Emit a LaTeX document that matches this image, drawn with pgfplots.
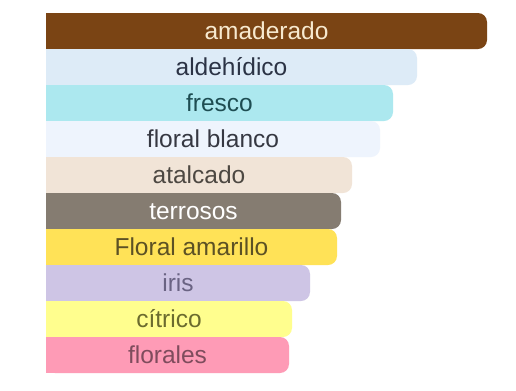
\documentclass[border=0pt]{standalone}
\usepackage{pgfplots}
\pgfplotsset{compat=1.18}
\usepackage{pgfplotstable}
\usepackage{fontspec}
\setmainfont{Liberation Sans}
\definecolor{b0}{HTML}{7A4414}\definecolor{t0}{HTML}{F7E9CF}
\definecolor{b1}{HTML}{DDEBF7}\definecolor{t1}{HTML}{2B3345}
\definecolor{b2}{HTML}{ACE8EF}\definecolor{t2}{HTML}{1E4D52}
\definecolor{b3}{HTML}{EEF4FD}\definecolor{t3}{HTML}{363842}
\definecolor{b4}{HTML}{F1E4D7}\definecolor{t4}{HTML}{4D4842}
\definecolor{b5}{HTML}{857C71}\definecolor{t5}{HTML}{FFFFFF}
\definecolor{b6}{HTML}{FFE257}\definecolor{t6}{HTML}{5C5124}
\definecolor{b7}{HTML}{CEC5E5}\definecolor{t7}{HTML}{6A6383}
\definecolor{b8}{HTML}{FFFE8E}\definecolor{t8}{HTML}{6B6B2E}
\definecolor{b9}{HTML}{FE9BB6}\definecolor{t9}{HTML}{7F4C5D}
\tikzset{lab/.style={font=\fontsize{24.5bp}{28bp}\selectfont, anchor=base, yshift=-8bp}}
\pgfplotstableread{
y v
0 441
1 371
2 347
3 334
4 306
5 295
6 291
7 264
8 246
9 243
}\data
\begin{document}
\begin{tikzpicture}
\path[use as bounding box, fill=white] (0,0) rectangle (516bp,391bp);
\begin{axis}[
  at={(46bp,18bp)}, anchor=south west,
  x=1bp, y=36bp, y dir=reverse,
  xmin=0, xmax=460, ymin=-0.5, ymax=9.5,
  hide axis, clip=false,
  xbar, bar width=36bp, bar shift=0pt,
  every axis plot/.append style={draw=none},
]
\pgfplotsinvokeforeach{0,...,9}{%
  \addplot[fill=b#1, rounded corners=9bp, restrict expr to domain={\thisrow{y}}{#1:#1}] table[x=v,y=y] {\data};
  \addplot[fill=b#1, restrict expr to domain={\thisrow{y}}{#1:#1}] table[x expr=\thisrow{v}/2,y=y] {\data};
}
\node[lab, text=t0] at (axis cs:220.5,0) {amaderado};
\node[lab, text=t1] at (axis cs:185.5,1) {aldehídico};
\node[lab, text=t2] at (axis cs:173.5,2) {fresco};
\node[lab, text=t3] at (axis cs:167,3) {floral blanco};
\node[lab, text=t4] at (axis cs:153,4) {atalcado};
\node[lab, text=t5] at (axis cs:147.5,5) {terrosos};
\node[lab, text=t6] at (axis cs:145.5,6) {Floral amarillo};
\node[lab, text=t7] at (axis cs:132,7) {iris};
\node[lab, text=t8] at (axis cs:123,8) {cítrico};
\node[lab, text=t9] at (axis cs:121.5,9) {florales};
\end{axis}
\end{tikzpicture}
\end{document}
